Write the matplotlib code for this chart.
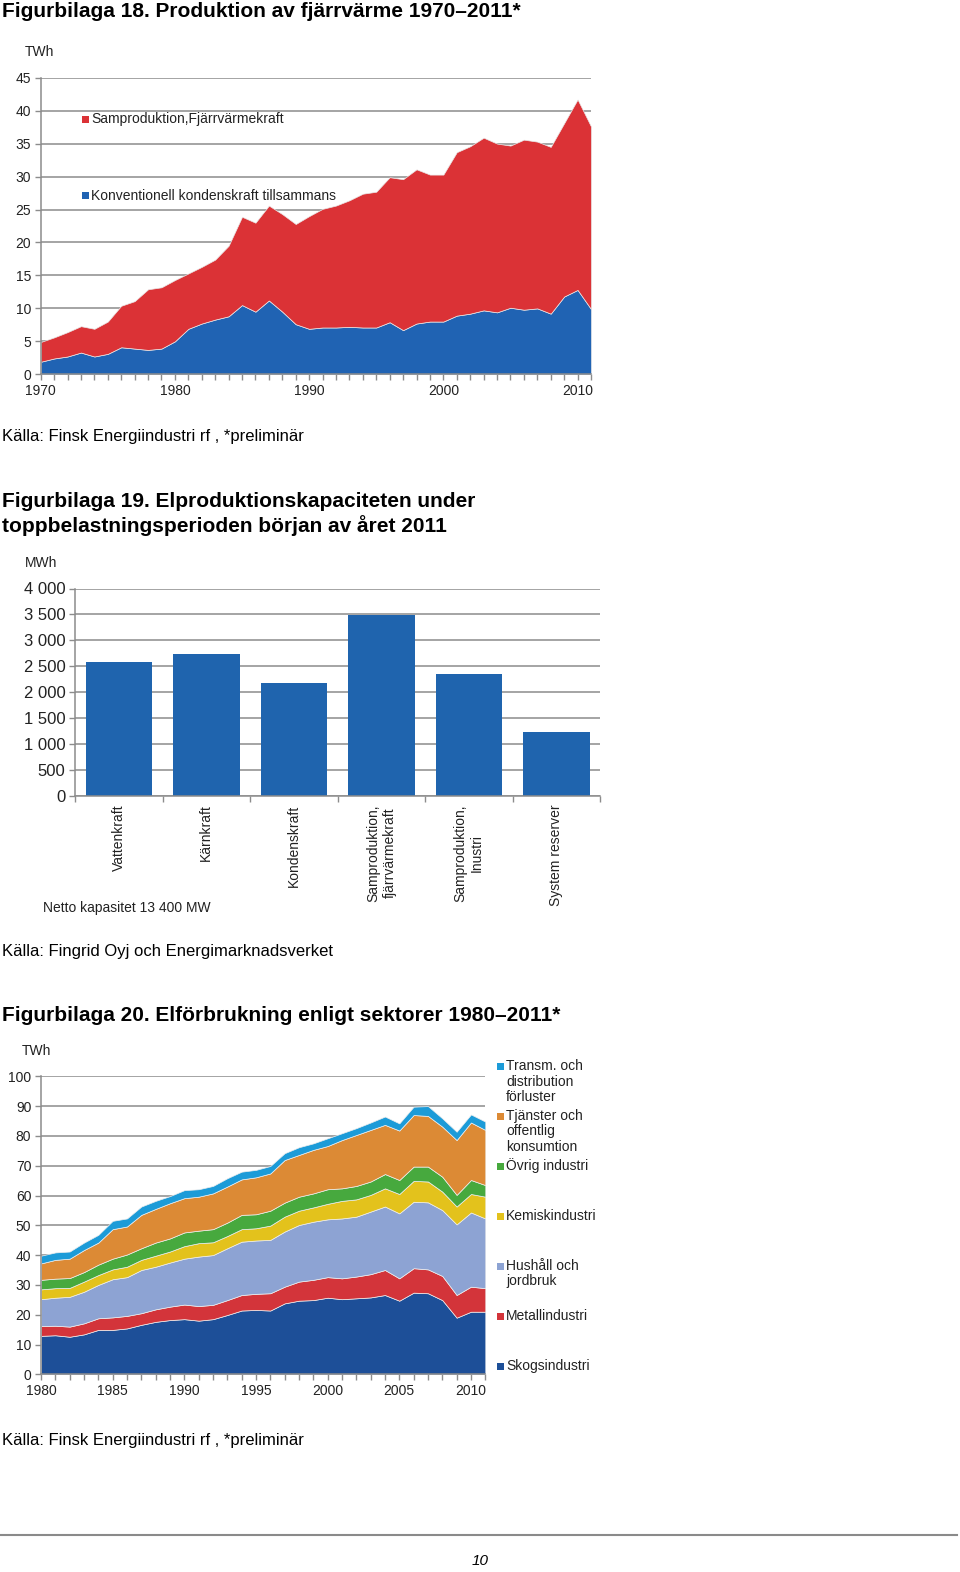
import matplotlib
matplotlib.use("Agg")
import matplotlib.pyplot as plt
from matplotlib.patches import Rectangle

plt.rcParams["font.family"] = ["Liberation Sans", "DejaVu Sans"]

W, H = 960, 1572

# ── Figurbilaga 18: fjärrvärme 1970-2011 (TWh) ──
years_fv = list(range(1970, 2012))
kondens = [1.9, 2.4, 2.7, 3.3, 2.7, 3.1, 4.1, 3.9, 3.7, 3.9,
           5.0, 6.9, 7.7, 8.3, 8.8, 10.5, 9.5, 11.2, 9.5, 7.6,
           6.9, 7.1, 7.1, 7.2, 7.1, 7.1, 7.9, 6.7, 7.7, 8.0,
           8.0, 8.9, 9.2, 9.7, 9.4, 10.1, 9.8, 10.0, 9.2, 11.8, 12.8, 9.9]
samprod = [3.0, 3.2, 3.7, 4.0, 4.2, 4.9, 6.3, 7.2, 9.2, 9.3,
           9.3, 8.4, 8.6, 9.1, 10.7, 13.4, 13.5, 14.4, 14.8, 15.2,
           17.1, 18.0, 18.5, 19.2, 20.3, 20.6, 22.0, 22.9, 23.4, 22.3,
           22.3, 24.8, 25.4, 26.2, 25.6, 24.6, 25.8, 25.3, 25.3, 26.3, 28.9, 27.7]
fv_labels = ["Samproduktion,Fjärrvärmekraft", "Konventionell kondenskraft tillsammans"]

# ── Figurbilaga 19: kapacitet (MWh) ──
kap_labels = ["Vattenkraft", "Kärnkraft", "Kondenskraft",
              "Samproduktion,\nfjärrvärmekraft", "Samproduktion,\nInustri", "System reserver"]
kap_values = [2590, 2740, 2180, 3490, 2350, 1240]
kap_ticks = [0, 500, 1000, 1500, 2000, 2500, 3000, 3500, 4000]
kap_ticklabels = ["0", "500", "1 000", "1 500", "2 000", "2 500", "3 000", "3 500", "4 000"]

# ── Figurbilaga 20: elförbrukning 1980-2011 (TWh) ──
years_el = list(range(1980, 2012))
skog = [12.9, 13.1, 12.6, 13.4, 14.9, 14.9, 15.4, 16.6, 17.6, 18.2,
        18.5, 18.0, 18.5, 19.9, 21.4, 21.6, 21.4, 23.8, 24.7, 24.9,
        25.7, 25.2, 25.5, 25.8, 26.6, 24.7, 27.4, 27.2, 24.9, 19.0, 21.0, 21.0]
metall = [3.3, 3.2, 3.4, 3.7, 3.9, 4.2, 4.2, 3.9, 4.2, 4.5,
          4.9, 4.9, 4.8, 5.0, 5.2, 5.4, 5.8, 5.6, 6.4, 6.8,
          6.9, 7.0, 7.3, 7.8, 8.4, 7.5, 8.2, 8.0, 8.1, 7.6, 8.4, 7.9]
hushall = [9.0, 9.4, 10.0, 10.6, 11.2, 12.8, 13.0, 14.5, 14.3, 14.8,
           15.4, 16.6, 16.7, 17.4, 17.9, 17.9, 17.9, 18.5, 19.0, 19.5,
           19.4, 20.1, 20.1, 21.0, 21.3, 21.8, 22.3, 22.5, 22.1, 23.7, 24.9, 23.4]
kemisk = [3.3, 3.2, 3.0, 3.4, 3.3, 3.3, 3.5, 3.4, 3.7, 3.7,
          4.2, 4.5, 4.3, 4.1, 4.2, 4.1, 4.8, 5.0, 4.8, 4.8,
          5.2, 5.9, 5.8, 5.6, 6.1, 6.5, 7.0, 7.0, 6.2, 6.0, 6.2, 7.3]
ovrig = [3.2, 3.2, 3.3, 3.2, 3.5, 3.6, 4.1, 3.9, 4.4, 4.4,
         4.6, 4.2, 4.4, 4.5, 4.8, 4.7, 5.0, 4.7, 4.7, 4.7,
         4.9, 4.2, 4.5, 4.5, 4.8, 4.7, 4.8, 5.0, 5.0, 3.9, 4.7, 3.9]
tjanster = [5.5, 6.3, 6.5, 7.4, 7.4, 9.9, 9.4, 11.2, 11.3, 11.8,
            11.5, 11.4, 12.0, 12.1, 11.9, 12.4, 12.5, 14.3, 14.0, 14.6,
            14.5, 16.2, 17.1, 17.3, 16.5, 16.6, 17.3, 17.0, 16.8, 18.4, 19.3, 18.5]
transm = [2.6, 2.5, 2.4, 2.5, 2.6, 2.8, 2.7, 2.8, 2.7, 2.4,
          2.7, 2.5, 2.5, 2.8, 2.6, 2.5, 2.5, 2.3, 2.6, 2.2,
          2.6, 2.3, 2.3, 2.5, 2.8, 2.4, 2.8, 3.3, 2.8, 2.8, 2.7, 2.8]
el_labels = ["Transm. och\ndistribution\nförluster", "Tjänster och\noffentlig\nkonsumtion",
             "Övrig industri", "Kemiskindustri", "Hushåll och\njordbruk",
             "Metallindustri", "Skogsindustri"]

C_RED = "#DB3236"
C_BLUE = "#2063B3"
C_BAR = "#1F64AE"
EL_COLORS = ["#1D4F98", "#D3343A", "#8DA3D3", "#E3C21C", "#47A93E", "#DC8A35", "#1C9BD8"]
GRID = "#8c8c8c"
TXT = "#222222"
TITLE_FS = 15
SRC_FS = 12
SMALL_FS = 10


def rect(l, t, r, b):
    return [l / W, 1 - b / H, (r - l) / W, (b - t) / H]


def ftext(x, y, s, **kw):
    fig.text(x / W, 1 - y / H, s, **kw)


def square(x, y, size, color):
    fig.add_artist(Rectangle((x / W, 1 - (y + size / 2) / H), size / W, size / H,
                             transform=fig.transFigure, color=color, lw=0))


def style_axes(ax):
    for s in ["top", "right"]:
        ax.spines[s].set_visible(False)
    for s in ["left", "bottom"]:
        ax.spines[s].set_color(GRID)
        ax.spines[s].set_linewidth(1.1)
    ax.yaxis.grid(True, color=GRID, lw=1.1)
    ax.set_axisbelow(True)
    ax.tick_params(which="both", color=GRID, length=4, width=1, labelcolor=TXT)


fig = plt.figure(figsize=(W / 100, H / 100), dpi=100)

# ── Figurbilaga 18 ──
ftext(2, 17, "Figurbilaga 18. Produktion av fjärrvärme 1970–2011*", fontsize=TITLE_FS, weight="bold", va="baseline")
ax1 = fig.add_axes(rect(40.7, 77.7, 591, 374.3))
ax1.stackplot(years_fv, kondens, samprod, colors=[C_BLUE, C_RED], edgecolor="#e8e8e8", linewidth=0.5)
ax1.set_xlim(1970, 2011)
ax1.set_ylim(0, 45)
ax1.set_yticks(range(0, 46, 5))
ax1.set_xticks([1970, 1980, 1990, 2000, 2010])
ax1.set_xticks(years_fv, minor=True)
style_axes(ax1)
ax1.tick_params(labelsize=SMALL_FS, pad=3)
ftext(25, 56, "TWh", fontsize=SMALL_FS, va="baseline", color=TXT)
square(82, 119.5, 7, C_RED)
ftext(91, 119.5, fv_labels[0], fontsize=SMALL_FS, va="center", color=TXT)
square(82, 195.5, 7, C_BLUE)
ftext(91, 195.5, fv_labels[1], fontsize=SMALL_FS, va="center", color=TXT)
ftext(2, 441, "Källa: Finsk Energiindustri rf , *preliminär", fontsize=SRC_FS, va="baseline")

# ── Figurbilaga 19 ──
ftext(2, 507, "Figurbilaga 19. Elproduktionskapaciteten under", fontsize=TITLE_FS, weight="bold", va="baseline")
ftext(2, 532, "toppbelastningsperioden början av året 2011", fontsize=TITLE_FS, weight="bold", va="baseline")
ax2 = fig.add_axes(rect(75, 588.5, 600, 796))
x2 = range(len(kap_values))
ax2.bar(x2, kap_values, width=0.76, color=C_BAR, zorder=2)
ax2.set_xlim(-0.5, len(kap_values) - 0.5)
ax2.set_ylim(0, 4000)
ax2.set_yticks(kap_ticks)
ax2.set_yticklabels(kap_ticklabels)
ax2.set_xticks([i - 0.5 for i in range(len(kap_values) + 1)])
ax2.set_xticklabels([])
ax2.set_xticks(list(x2), minor=True)
ax2.set_xticklabels(kap_labels, minor=True, rotation=90, va="top", ha="center",
                    multialignment="center")
style_axes(ax2)
ax2.tick_params(axis="y", labelsize=12, pad=3)
ax2.tick_params(axis="x", which="minor", length=0, labelsize=SMALL_FS, pad=6)
ftext(25, 567, "MWh", fontsize=SMALL_FS, va="baseline", color=TXT)
ftext(43, 908, "Netto kapasitet 13 400 MW", fontsize=SMALL_FS, va="center", color=TXT)
ftext(2, 956, "Källa: Fingrid Oyj och Energimarknadsverket", fontsize=SRC_FS, va="baseline")

# ── Figurbilaga 20 ──
ftext(2, 1021, "Figurbilaga 20. Elförbrukning enligt sektorer 1980–2011*", fontsize=TITLE_FS, weight="bold", va="baseline")
ax3 = fig.add_axes(rect(41, 1076.3, 485.3, 1374.3))
ax3.stackplot(years_el, skog, metall, hushall, kemisk, ovrig, tjanster, transm,
              colors=EL_COLORS, edgecolor="#eeeeee", linewidth=0.5)
ax3.set_xlim(1980, 2011)
ax3.set_ylim(0, 100)
ax3.set_yticks(range(0, 101, 10))
ax3.set_xticks([1980, 1985, 1990, 1995, 2000, 2005, 2010])
ax3.set_xticks(years_el, minor=True)
style_axes(ax3)
ax3.tick_params(labelsize=SMALL_FS, pad=3)
ftext(22, 1055, "TWh", fontsize=SMALL_FS, va="baseline", color=TXT)

leg_colors = EL_COLORS[::-1]
for i, (lab, col) in enumerate(zip(el_labels, leg_colors)):
    y0 = 1066 + 50 * i
    square(497, y0, 7, col)
    for j, line in enumerate(lab.split("\n")):
        ftext(506, y0 + 15.5 * j, line, fontsize=SMALL_FS, va="center", color=TXT)

ftext(2, 1445, "Källa: Finsk Energiindustri rf , *preliminär", fontsize=SRC_FS, va="baseline")

fig.add_artist(plt.Line2D([0, 957 / W], [1 - 1535 / H] * 2, transform=fig.transFigure,
                          color="#8a8a8a", lw=1.5))
ftext(480, 1561, "10", fontsize=11, style="italic", ha="center", va="center")

fig.savefig("out.png", dpi=100)
